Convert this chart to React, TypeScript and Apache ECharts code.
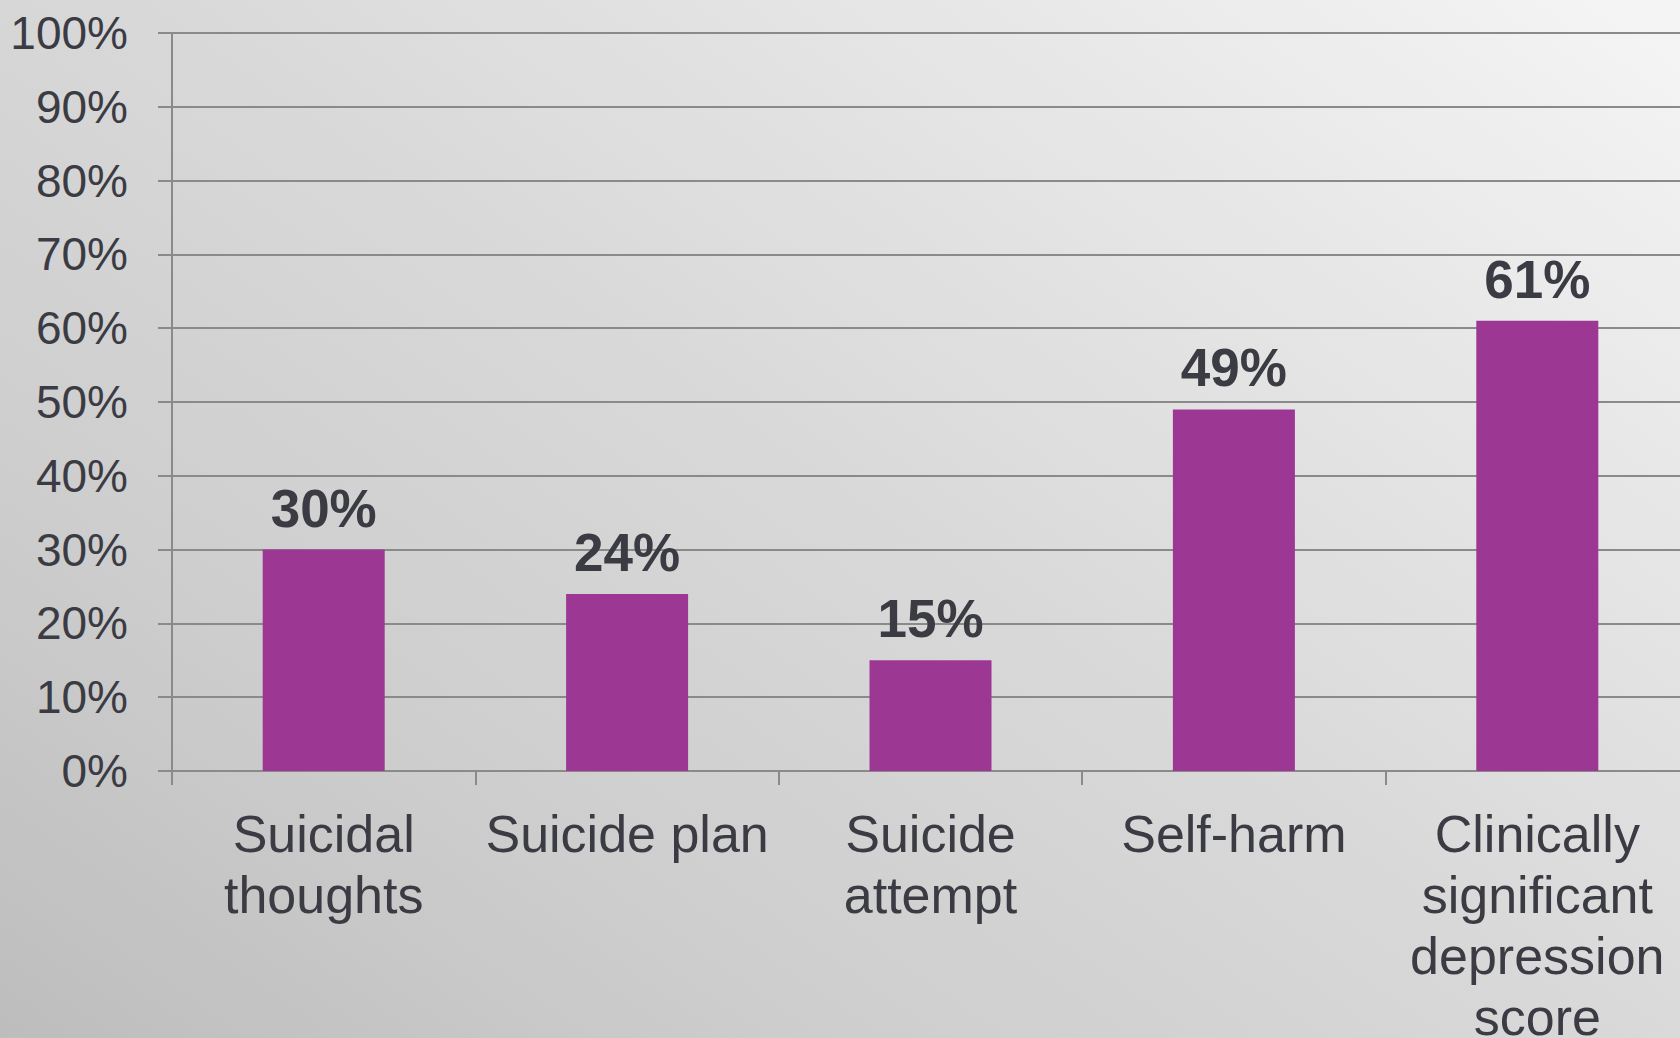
import React, { useEffect, useRef } from "react";
import * as echarts from "echarts";

const categories = [
  "Suicidal\nthoughts",
  "Suicide plan",
  "Suicide\nattempt",
  "Self-harm",
  "Clinically\nsignificant\ndepression\nscore",
];
const values = [30, 24, 15, 49, 61];
const yMin = 0;
const yMax = 100;
const yStep = 10;

export default function App() {
  const ref = useRef<HTMLDivElement>(null);
  useEffect(() => {
    const el = ref.current;
    if (!el) return;
    const chart = echarts.init(el, null, { renderer: "svg" });
    const textColor = "#3b3b44";
    const lineColor = "#8a8a8a";
    chart.setOption({
      animation: false,
      backgroundColor: "transparent",
      grid: {
        left: 172,
        right: 0,
        top: 33,
        bottom: 267,
        containLabel: false,
        outerBoundsMode: "none",
      },
      xAxis: {
        type: "category",
        data: categories,
        axisLine: { show: true, lineStyle: { color: lineColor, width: 2 } },
        axisTick: { show: true, length: 14, alignWithLabel: false, lineStyle: { color: lineColor, width: 2 } },
        axisLabel: {
          interval: 0,
          margin: 32,
          color: textColor,
          fontFamily: "Liberation Sans, Arial, sans-serif",
          fontSize: 52,
          lineHeight: 61,
        },
      },
      yAxis: {
        type: "value",
        min: yMin,
        max: yMax,
        interval: yStep,
        axisLine: { show: true, lineStyle: { color: lineColor, width: 2 } },
        axisTick: { show: true, inside: false, length: 14, lineStyle: { color: lineColor, width: 2 } },
        splitLine: { show: true, lineStyle: { color: lineColor, width: 2 } },
        axisLabel: {
          formatter: "{value}%",
          margin: 44,
          color: textColor,
          fontFamily: "Liberation Sans, Arial, sans-serif",
          fontSize: 46,
        },
      },
      series: [
        {
          type: "bar",
          data: values,
          barWidth: 122,
          itemStyle: { color: "#9d3794" },
          label: {
            show: true,
            position: "top",
            distance: 15,
            formatter: "{c}%",
            color: textColor,
            fontFamily: "Liberation Sans, Arial, sans-serif",
            fontWeight: "bold",
            fontSize: 53,
          },
        },
      ],
    });
    return () => chart.dispose();
  }, []);
  return (
    <div
      style={{
        position: "fixed",
        left: 0,
        top: 0,
        width: 1680,
        height: 1038,
        overflow: "hidden",
        background:
          "linear-gradient(35deg, #bdbdbd 0%, #cdcdcd 25%, #d8d8d8 50%, #e6e6e6 75%, #f5f5f5 100%)",
      }}
    >
      <div ref={ref} style={{ width: 1689, height: 1038 }} />
    </div>
  );
}
